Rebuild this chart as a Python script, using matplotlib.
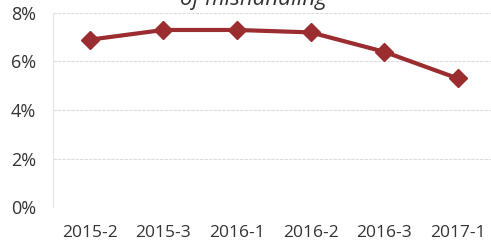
import matplotlib.pyplot as plt
from matplotlib.ticker import FuncFormatter

# Données
periods = ['2015-2', '2015-3', '2016-1', '2016-2', '2016-3', '2017-1']
rate = [6.9, 7.3, 7.3, 7.2, 6.4, 5.3]
yticks = [0, 2, 4, 6, 8]

plt.rcParams['font.family'] = ['Open Sans', 'DejaVu Sans']

fig = plt.figure(figsize=(4.91, 2.45), dpi=100)
ax = fig.add_axes([0.108, 0.155, 0.892, 0.792])

x = range(len(periods))
ax.plot(x, rate, color='#9B2D30', linewidth=3, marker='D', markersize=9)

ax.set_xlim(-0.5, 5.45)
ax.set_ylim(0, 8)
ax.set_yticks(yticks)
ax.yaxis.set_major_formatter(FuncFormatter(lambda v, p: f'{v:.0f}%'))
ax.set_xticks(list(x))
ax.set_xticklabels(periods)
ax.tick_params(length=0, labelsize=12.5, colors='#333333')
ax.tick_params(axis='y', pad=12, labelsize=13)
ax.tick_params(axis='x', pad=13)

ax.grid(axis='y', color='#dcdce2', linewidth=0.8, linestyle=(0, (3, 1)))
for s in ['top', 'right', 'bottom']:
    ax.spines[s].set_visible(False)
ax.spines['left'].set_color('#e4e4ea')
ax.spines['left'].set_linewidth(0.8)

# titre coupé en haut
fig.text(0.516, 1 - 5 / 245, 'of mishandling', ha='center', va='baseline',
         fontsize=16, style='italic', color='#333333')

fig.savefig('out.png', dpi=100)
